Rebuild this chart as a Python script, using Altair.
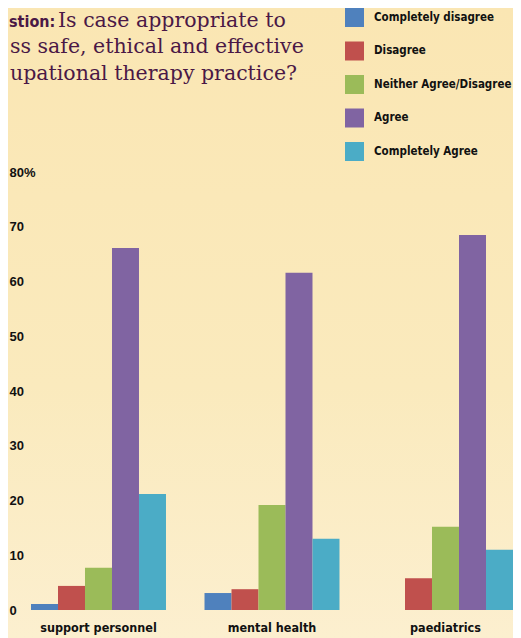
import altair as alt
import pandas as pd

categories = ["support personnel", "mental health", "paediatrics"]
responses = ["Completely disagree", "Disagree", "Neither Agree/Disagree", "Agree", "Completely Agree"]
colors = ["#4F81BD", "#C0504D", "#9BBB59", "#8064A2", "#4BACC6"]
support_personnel = [1.1, 4.4, 7.7, 66.1, 21.2]
mental_health = [3.1, 3.8, 19.2, 61.6, 13.0]
paediatrics = [0.0, 5.8, 15.2, 68.5, 11.0]
y_ticks = [0, 10, 20, 30, 40, 50, 60, 70, 80]
title_prefix = "stion:"
title_line1 = "Is case appropriate to"
title_line2 = "ss safe, ethical and effective"
title_line3 = "upational therapy practice?"

series = {"support personnel": support_personnel, "mental health": mental_health, "paediatrics": paediatrics}
rows = []
for cat in categories:
    for i, r in enumerate(responses):
        rows.append({"category": cat, "response": r, "order": i, "value": series[cat][i]})
df = pd.DataFrame(rows)

# total chart: 505 x 630 (page width 521 minus 8px body margins)
W, H = 482, 438
PAD = {"left": 23, "top": 164, "right": 0, "bottom": 28}
LABEL_FONT = "DejaVu Sans Condensed, Liberation Sans, sans-serif"
TITLE_COLOR = "#4A1846"
TEXT_COLOR = "#111111"

bg = alt.Chart(pd.DataFrame({"a": [0]})).mark_rect(
    color=alt.Gradient(
        gradient="linear", x1=0, x2=0, y1=0, y2=1,
        stops=[alt.GradientStop(color="#FAE6B3", offset=0),
               alt.GradientStop(color="#FAEABD", offset=0.6),
               alt.GradientStop(color="#FCEFCF", offset=1)],
    )
).encode(
    x=alt.value(-PAD["left"]), x2=alt.value(W + PAD["right"]),
    y=alt.value(-PAD["top"]), y2=alt.value(H + PAD["bottom"]),
)

bars = alt.Chart(df).mark_bar(strokeWidth=0).encode(
    x=alt.X("category:N", sort=categories,
            scale=alt.Scale(paddingInner=0.222, paddingOuter=0),
            axis=alt.Axis(title=None, labelAngle=0, ticks=False, domain=False, zindex=2,
                          labelFont=LABEL_FONT, labelFontWeight="bold", labelFontSize=12.5,
                          labelColor=TEXT_COLOR, labelPadding=11, labelBaseline="top")),
    xOffset=alt.XOffset("order:O", scale=alt.Scale(paddingInner=0, paddingOuter=0)),
    y=alt.Y("value:Q", scale=alt.Scale(domain=[0, 80], nice=False),
            axis=alt.Axis(title=None, values=y_ticks, grid=False, domain=False, ticks=False,
                          tickSize=0, labelAlign="left", labelPadding=22, zindex=2,
                          labelBaseline="middle",
                          labelExpr="datum.value == 80 ? '80%' : datum.label",
                          labelFont="Liberation Sans", labelFontWeight="bold", labelFontSize=13,
                          labelColor=TEXT_COLOR)),
    color=alt.Color("response:N", sort=responses,
                    scale=alt.Scale(domain=responses, range=colors),
                    legend=alt.Legend(title=None, orient="none", legendX=337 - PAD["left"],
                                      legendY=-PAD["top"], symbolType="square", zindex=2,
                                      symbolSize=361, symbolStrokeWidth=0, rowPadding=14.5,
                                      labelOffset=10, padding=0, labelFont=LABEL_FONT,
                                      labelFontWeight="bold", labelFontSize=11.5,
                                      labelColor=TEXT_COLOR, labelLimit=300)),
)

def text_layer(txt, x, y, font, size, weight, align):
    return alt.Chart(pd.DataFrame({"t": [txt]})).mark_text(
        font=font, fontSize=size, fontWeight=weight, color=TITLE_COLOR,
        align=align, baseline="alphabetic",
    ).encode(text="t:N", x=alt.value(x - PAD["left"]), y=alt.value(y - PAD["top"]))

SERIF = "DejaVu Serif"
prefix = text_layer(title_prefix, 1, 19, LABEL_FONT, 16, "bold", "left")
line1 = text_layer(title_line1, 50, 19, SERIF, 20.5, "normal", "left")
line2 = text_layer(title_line2, 2, 45, SERIF, 20.5, "normal", "left")
line3 = text_layer(title_line3, 2, 72, SERIF, 20.5, "normal", "left")

chart = alt.layer(bg, bars, prefix, line1, line2, line3).properties(
    width=W, height=H,
    autosize=alt.AutoSizeParams(type="none"),
    padding=PAD,
).configure(background="#FAEABD").configure_view(stroke=None)

chart.save("out.html", embed_options={"renderer": "svg", "actions": False})
